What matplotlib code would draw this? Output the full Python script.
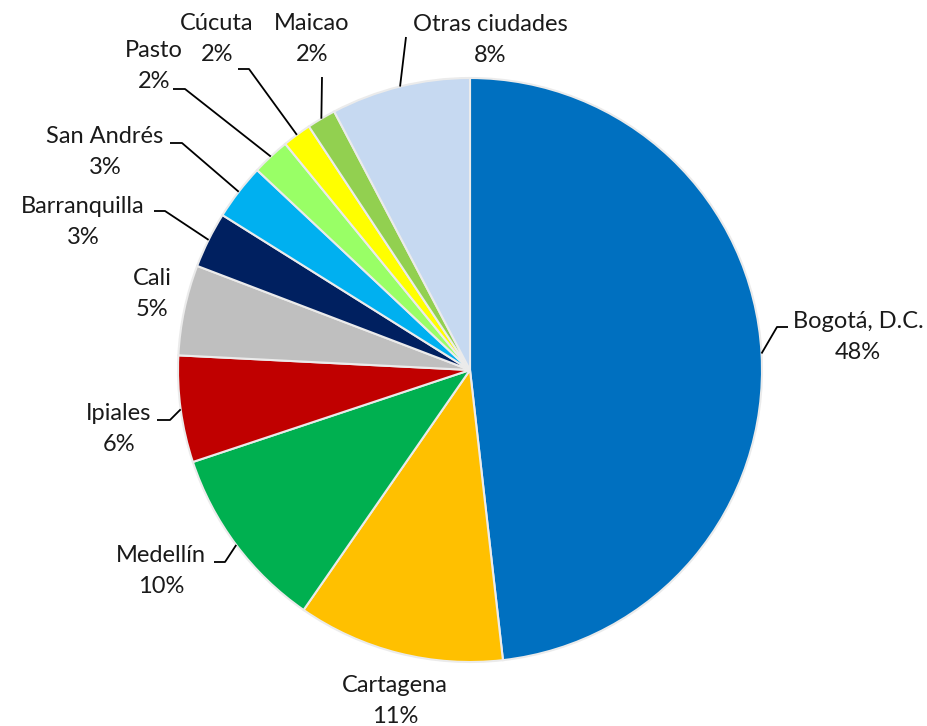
import matplotlib.pyplot as plt
import numpy as np

# Datos
ciudades = ['Bogotá, D.C.', 'Cartagena', 'Medellín', 'Ipiales', 'Cali', 'Barranquilla',
            'San Andrés', 'Pasto', 'Cúcuta', 'Maicao', 'Otras ciudades']
porcentajes = [48.2, 11.45, 10.25, 5.9, 5.0, 3.1, 3.1, 2.1, 1.6, 1.6, 7.7]
colores = ['#0070C0', '#FFC000', '#00B050', '#C00000', '#BFBFBF', '#002060',
           '#00B0F0', '#99FF66', '#FFFF00', '#92D050', '#C6D9F1']

# Layout in pixel coords (origin top-left)
W, H = 927, 726
cx, cy, R = 470, 370, 292
pos_texto = [(858, 337), (395, 701), (161, 571), (119, 429), (152, 294), (83, 222),
             (105, 152), (154, 66), (217, 39), (312, 39), (490, 40)]
# leader line: (start near text, elbow) or None
guias = [((788, 327), (777, 327)), None, ((214, 562), (225, 562)), ((157, 420), (170, 420)),
         None, ((154, 211), (165, 211)), ((170, 143), (182, 143)), ((173, 89), (185, 89)),
         ((238, 69), (249, 69)), ((322, 77), (322, 77)), ((406, 37), (406, 37))]

fig = plt.figure(figsize=(9.27, 7.26), dpi=100)
ax = fig.add_axes([0, 0, 1, 1])

wedges, _ = ax.pie(porcentajes, colors=colores, startangle=90, counterclock=False,
                   center=(cx, H - cy), radius=R,
                   wedgeprops=dict(edgecolor='#EBEBEB', linewidth=1.5))

for w, nombre, v, (tx, ty), g in zip(wedges, ciudades, porcentajes, pos_texto, guias):
    ax.text(tx, H - ty, f'{nombre}\n{round(v):.0f}%', ha='center', va='center',
            fontsize=17, family='Lato', linespacing=1.55, color='#1a1a1a')
    if g is not None:
        mid = np.deg2rad((w.theta1 + w.theta2) / 2)
        ax_x = cx + R * np.cos(mid)
        ax_y = (H - cy) + R * np.sin(mid)
        (sx, sy), (ex, ey) = g
        ax.plot([sx, ex, ax_x], [H - sy, H - ey, ax_y], color='black', lw=1.3,
                solid_capstyle='butt')

ax.set_xlim(0, W)
ax.set_ylim(0, H)
ax.set_aspect('equal')
ax.axis('off')

plt.savefig('out.png', dpi=100)
